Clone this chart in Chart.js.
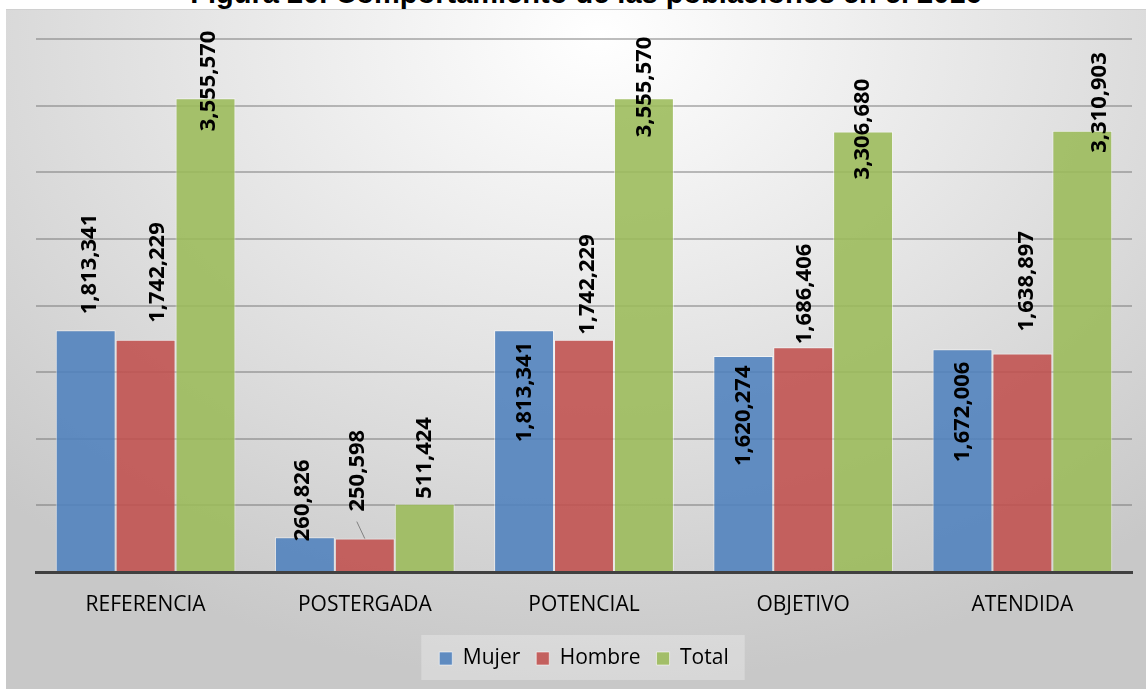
<!DOCTYPE html>
<html>
<head>
<meta charset="utf-8">
<script src="https://cdn.jsdelivr.net/npm/chart.js@4.4.1/dist/chart.umd.min.js"></script>
<style>
  html, body { margin: 0; padding: 0; background: #fff; }
  body { width: 1146px; height: 689px; position: relative; overflow: hidden; }
  #title {
    position: absolute; left: 0; width: 1172px; top: -21px; text-align: center;
    font: bold 29px "Liberation Sans", Arial, sans-serif; line-height: 29px; color: #000;
  }
  #panel {
    position: absolute; left: 6px; top: 9px; width: 1140px; height: 680px;
    background: radial-gradient(ellipse 75% 95% at 52% 4%, #ffffff 0%, #ececec 35%, #d9d9d9 70%, #c8c8c8 100%);
    box-shadow: inset 0 1px 0 #d0d0d0;
  }
</style>
</head>
<body>
<div id="title">Figura 20. Comportamiento de las poblaciones en el 2016</div>
<div id="panel"><canvas id="chart"></canvas></div>
<script>
// Poblaciones 2016
const categories = ['REFERENCIA', 'POSTERGADA', 'POTENCIAL', 'OBJETIVO', 'ATENDIDA'];
const mujer  = [1813341, 260826, 1813341, 1620274, 1672006];
const hombre = [1742229, 250598, 1742229, 1686406, 1638897];
const total  = [3555570, 511424, 3555570, 3306680, 3310903];

// where each value label sits, relative to the top of its bar: [dx, dy]
const labelShift = [
    [[4, -16], [-2, 4], [1, 112], [0, 110], [0, 113]],
    [[12, -17], [-7, -27], [4, -5], [2, -3], [4, -22]],
    [[3, 33], [0, -5], [1, 39], [0, 48], [17, 22]]
];

const fmt = v => v.toLocaleString('en-US');

const valueLabels = {
    id: 'valueLabels',
    afterDatasetsDraw(chart) {
        const ctx = chart.ctx;
        ctx.save();
        ctx.font = 'bold 22px "Open Sans", sans-serif';
        ctx.fillStyle = '#000';
        ctx.textAlign = 'left';
        ctx.textBaseline = 'middle';
        chart.data.datasets.forEach((ds, d) => {
            chart.getDatasetMeta(d).data.forEach((bar, i) => {
                const [dx, dy] = labelShift[d][i];
                const x = bar.x + dx, y = bar.y + dy;
                // leader line when the label was pulled away from its bar
                if (dy < -25) {
                    ctx.strokeStyle = '#808080';
                    ctx.lineWidth = 1;
                    ctx.beginPath();
                    ctx.moveTo(x - 1, y + 10);
                    ctx.lineTo(bar.x, bar.y);
                    ctx.stroke();
                }
                ctx.save();
                ctx.translate(x, y);
                ctx.rotate(-Math.PI / 2);
                ctx.fillText(fmt(ds.data[i]), 0, 0);
                ctx.restore();
            });
        });
        ctx.restore();
    }
};

const legendBox = {
    id: 'legendBox',
    beforeDraw(chart) {
        const boxes = chart.legend.legendHitBoxes;
        if (!boxes || !boxes.length) return;
        const l = Math.min(...boxes.map(b => b.left)) - 18;
        const r = Math.max(...boxes.map(b => b.left + b.width)) + 16;
        const t = boxes[0].top - 13;
        const ctx = chart.ctx;
        ctx.save();
        ctx.fillStyle = 'rgba(255,255,255,0.28)';
        ctx.fillRect(l, t, r - l, 45);
        ctx.restore();
    }
};

new Chart(document.getElementById('chart'), {
    type: 'bar',
    data: {
        labels: categories,
        datasets: [
            { label: 'Mujer',  data: mujer,  backgroundColor: 'rgba(79,129,189,0.88)' },
            { label: 'Hombre', data: hombre, backgroundColor: 'rgba(192,80,77,0.88)' },
            { label: 'Total',  data: total,  backgroundColor: 'rgba(155,187,89,0.88)' }
        ]
    },
    options: {
        responsive: true,
        maintainAspectRatio: false,
        animation: false,
        layout: { padding: { left: 30, right: 14, top: 30, bottom: 10 } },
        datasets: {
            bar: {
                categoryPercentage: 0.82,
                barPercentage: 1,
                borderWidth: 1,
                borderColor: 'rgba(255,255,255,0.55)'
            }
        },
        scales: {
            x: {
                grid: { display: false, drawTicks: false },
                border: { display: true, color: '#404040', width: 3 },
                ticks: { color: '#000', padding: 20, font: { family: '"Open Sans", sans-serif', size: 21 } },
                afterFit: s => { s.height = 60; }
            },
            y: {
                min: 0, max: 4000000,
                ticks: { display: false, stepSize: 500000 },
                grid: { color: 'rgba(110,110,110,0.45)', lineWidth: 2, drawTicks: false },
                border: { display: false },
                afterFit: s => { s.width = 0; }
            }
        },
        plugins: {
            title: { display: false },
            tooltip: { enabled: false },
            legend: {
                position: 'bottom',
                labels: {
                    color: '#000',
                    boxWidth: 13, boxHeight: 13,
                    padding: 16,
                    font: { family: '"Open Sans", sans-serif', size: 21 }
                }
            }
        }
    },
    plugins: [valueLabels, legendBox]
});
</script>
</body>
</html>
